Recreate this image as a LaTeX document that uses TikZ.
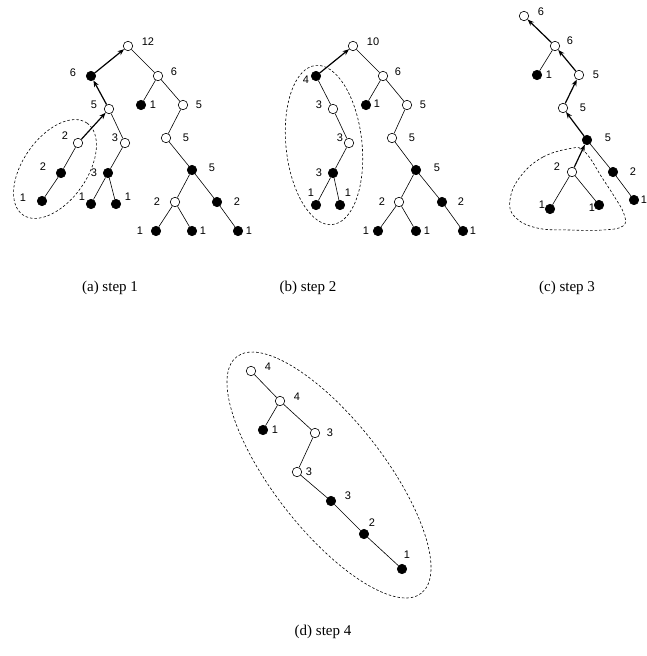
\documentclass[tikz,border=0pt]{standalone}
\usepackage{fontspec}
\setmainfont{Liberation Serif}
\setsansfont{Liberation Sans}
\usetikzlibrary{arrows.meta}

\tikzset{
  wn/.style={circle,draw,fill=white,inner sep=0pt,minimum size=9.5pt,line width=0.6pt},
  bn/.style={circle,draw,fill=black,inner sep=0pt,minimum size=9.5pt,line width=0.6pt},
  lab/.style={font=\sffamily\fontsize{11}{13}\selectfont,inner sep=0pt},
  captext/.style={font=\fontsize{15}{18}\selectfont,inner sep=0pt},
  up/.style={-{Stealth[length=6.5pt,width=5pt]},line width=1.2pt},
  hull/.style={dash pattern=on 2.5pt off 2pt,line width=0.6pt}
}

\begin{document}
\begin{tikzpicture}[
                    x=1pt,
                    y=-1pt,
                    line width=0.6pt
                ]
                \useasboundingbox (0,0) rectangle (647,656);

                % (a) step 1
                \node[wn] (a1) at (128,46) {};
                \node[bn] (a2) at (91,76) {};
                \node[wn] (a3) at (158,76) {};
                \node[wn] (a4) at (109,109) {};
                \node[bn] (a5) at (141,105) {};
                \node[wn] (a6) at (183,105) {};
                \node[wn] (a7) at (78,143) {};
                \node[wn] (a8) at (125,143) {};
                \node[wn] (a9) at (166,138) {};
                \node[bn] (a10) at (61,173) {};
                \node[bn] (a11) at (108,173) {};
                \node[bn] (a12) at (192,170) {};
                \node[bn] (a13) at (42,201) {};
                \node[bn] (a14) at (91,204) {};
                \node[bn] (a15) at (116,204) {};
                \node[wn] (a16) at (175,202) {};
                \node[bn] (a17) at (217,202) {};
                \node[bn] (a18) at (156,231) {};
                \node[bn] (a19) at (192,231) {};
                \node[bn] (a20) at (238,231) {};

                \node[lab] (a1t) at (148,42) {12};
                \node[lab] (a2t) at (73,73) {6};
                \node[lab] (a3t) at (174,72) {6};
                \node[lab] (a4t) at (94,105) {5};
                \node[lab] (a5t) at (153,105) {1};
                \node[lab] (a6t) at (199,105) {5};
                \node[lab] (a7t) at (65,136) {2};
                \node[lab] (a8t) at (115,138) {3};
                \node[lab] (a9t) at (186,138) {5};
                \node[lab] (a10t) at (43,167) {2};
                \node[lab] (a11t) at (94,173) {3};
                \node[lab] (a12t) at (212,168) {5};
                \node[lab] (a13t) at (23,198) {1};
                \node[lab] (a14t) at (82,197) {1};
                \node[lab] (a15t) at (128,197) {1};
                \node[lab] (a16t) at (157,202) {2};
                \node[lab] (a17t) at (237,202) {2};
                \node[lab] (a18t) at (140,231) {1};
                \node[lab] (a19t) at (203,231) {1};
                \node[lab] (a20t) at (249,231) {1};

                \path
                (a1) edge (a3)
                (a3) edge (a5)
                (a3) edge (a6)
                (a6) edge (a9)
                (a9) edge (a12)
                (a12) edge (a16)
                (a12) edge (a17)
                (a16) edge (a18)
                (a16) edge (a19)
                (a17) edge (a20)
                (a4) edge (a8)
                (a8) edge (a11)
                (a11) edge (a14)
                (a11) edge (a15)
                (a7) edge (a10)
                (a10) edge (a13)
                ;
                \begin{scope}[up]
                    \path
                    (a2) edge (a1)
                    (a4) edge (a2)
                    (a7) edge (a4)
                    ;
                \end{scope}
                \draw[hull,rotate around={55:(55,169)}] (55,169) ellipse [x radius=56,y radius=32];
                \node[captext] (capa) at (110,288) {(a) step 1};

                % (b) step 2
                \node[wn] (b1) at (353,46) {};
                \node[bn] (b2) at (316,76) {};
                \node[wn] (b3) at (383,76) {};
                \node[wn] (b4) at (333,109) {};
                \node[bn] (b5) at (366,105) {};
                \node[wn] (b6) at (407,105) {};
                \node[wn] (b7) at (349,143) {};
                \node[wn] (b8) at (392,138) {};
                \node[bn] (b9) at (333,173) {};
                \node[bn] (b10) at (416,170) {};
                \node[bn] (b11) at (316,205) {};
                \node[bn] (b12) at (340,205) {};
                \node[wn] (b13) at (399,202) {};
                \node[bn] (b14) at (442,202) {};
                \node[bn] (b15) at (378,231) {};
                \node[bn] (b16) at (416,231) {};
                \node[bn] (b17) at (463,231) {};

                \node[lab] (b1t) at (373,42) {10};
                \node[lab] (b2t) at (306,80) {4};
                \node[lab] (b3t) at (398,72) {6};
                \node[lab] (b4t) at (319,105) {3};
                \node[lab] (b5t) at (377,104) {1};
                \node[lab] (b6t) at (423,105) {5};
                \node[lab] (b7t) at (340,138) {3};
                \node[lab] (b8t) at (412,138) {5};
                \node[lab] (b9t) at (319,173) {3};
                \node[lab] (b10t) at (437,168) {5};
                \node[lab] (b11t) at (311,193) {1};
                \node[lab] (b12t) at (348,193) {1};
                \node[lab] (b13t) at (382,202) {2};
                \node[lab] (b14t) at (461,202) {2};
                \node[lab] (b15t) at (366,231) {1};
                \node[lab] (b16t) at (427,231) {1};
                \node[lab] (b17t) at (473,231) {1};

                \path
                (b1) edge (b3)
                (b3) edge (b5)
                (b3) edge (b6)
                (b6) edge (b8)
                (b8) edge (b10)
                (b10) edge (b13)
                (b10) edge (b14)
                (b13) edge (b15)
                (b13) edge (b16)
                (b14) edge (b17)
                (b2) edge (b4)
                (b4) edge (b7)
                (b7) edge (b9)
                (b9) edge (b11)
                (b9) edge (b12)
                ;
                \path[up] (b2) edge (b1);
                \draw[hull,rotate around={96:(324,145)}] (324,145) ellipse [x radius=80,y radius=38];
                \node[captext] (capb) at (308,288) {(b) step 2};

                % (c) step 3
                \node[wn] (c1) at (524,16) {};
                \node[wn] (c2) at (555,46) {};
                \node[bn] (c3) at (537,75) {};
                \node[wn] (c4) at (579,75) {};
                \node[wn] (c5) at (563,108) {};
                \node[bn] (c6) at (587,140) {};
                \node[wn] (c7) at (572,172) {};
                \node[bn] (c8) at (613,172) {};
                \node[bn] (c9) at (550,209) {};
                \node[bn] (c10) at (599,205) {};
                \node[bn] (c11) at (634,200) {};

                \node[lab] (c1t) at (541,12) {6};
                \node[lab] (c2t) at (570,41) {6};
                \node[lab] (c3t) at (549,75) {1};
                \node[lab] (c4t) at (596,75) {5};
                \node[lab] (c5t) at (583,108) {5};
                \node[lab] (c6t) at (608,138) {5};
                \node[lab] (c7t) at (557,167) {2};
                \node[lab] (c8t) at (633,172) {2};
                \node[lab] (c9t) at (542,205) {1};
                \node[lab] (c10t) at (592,208) {1};
                \node[lab] (c11t) at (644,200) {1};

                \path
                (c2) edge (c3)
                (c6) edge (c8)
                (c8) edge (c11)
                (c7) edge (c9)
                (c7) edge (c10)
                ;
                \begin{scope}[up]
                    \path
                    (c2) edge (c1)
                    (c4) edge (c2)
                    (c5) edge (c4)
                    (c6) edge (c5)
                    (c7) edge (c6)
                    ;
                \end{scope}
                \draw[hull] plot[smooth cycle,tension=0.7] coordinates {
                    (573,148) (543,157) (520,177) (510,200) (515,217) (537,228)
                    (570,230) (603,230) (623,226) (624,214) (614,196) (601,176)
                    (590,158) (582,150)};
                \node[captext] (capc) at (567,288) {(c) step 3};

                % (d) step 4
                \node[wn] (d1) at (251,371) {};
                \node[wn] (d2) at (280,401) {};
                \node[bn] (d3) at (263,430) {};
                \node[wn] (d4) at (315,433) {};
                \node[wn] (d5) at (297,472) {};
                \node[bn] (d6) at (331,501) {};
                \node[bn] (d7) at (364,534) {};
                \node[bn] (d8) at (402,569) {};

                \node[lab] (d1t) at (268,367) {4};
                \node[lab] (d2t) at (297,397) {4};
                \node[lab] (d3t) at (275,430) {1};
                \node[lab] (d4t) at (330,433) {3};
                \node[lab] (d5t) at (309,472) {3};
                \node[lab] (d6t) at (348,496) {3};
                \node[lab] (d7t) at (372,523) {2};
                \node[lab] (d8t) at (407,555) {1};

                \path
                (d1) edge (d2)
                (d2) edge (d3)
                (d2) edge (d4)
                (d4) edge (d5)
                (d5) edge (d6)
                (d6) edge (d7)
                (d7) edge (d8)
                ;
                \draw[hull,rotate around={-52:(329,475)}] (329,475) ellipse [x radius=150,y radius=55];
                \node[captext] (capd) at (323,632) {(d) step 4};
            \end{tikzpicture}
\end{document}
